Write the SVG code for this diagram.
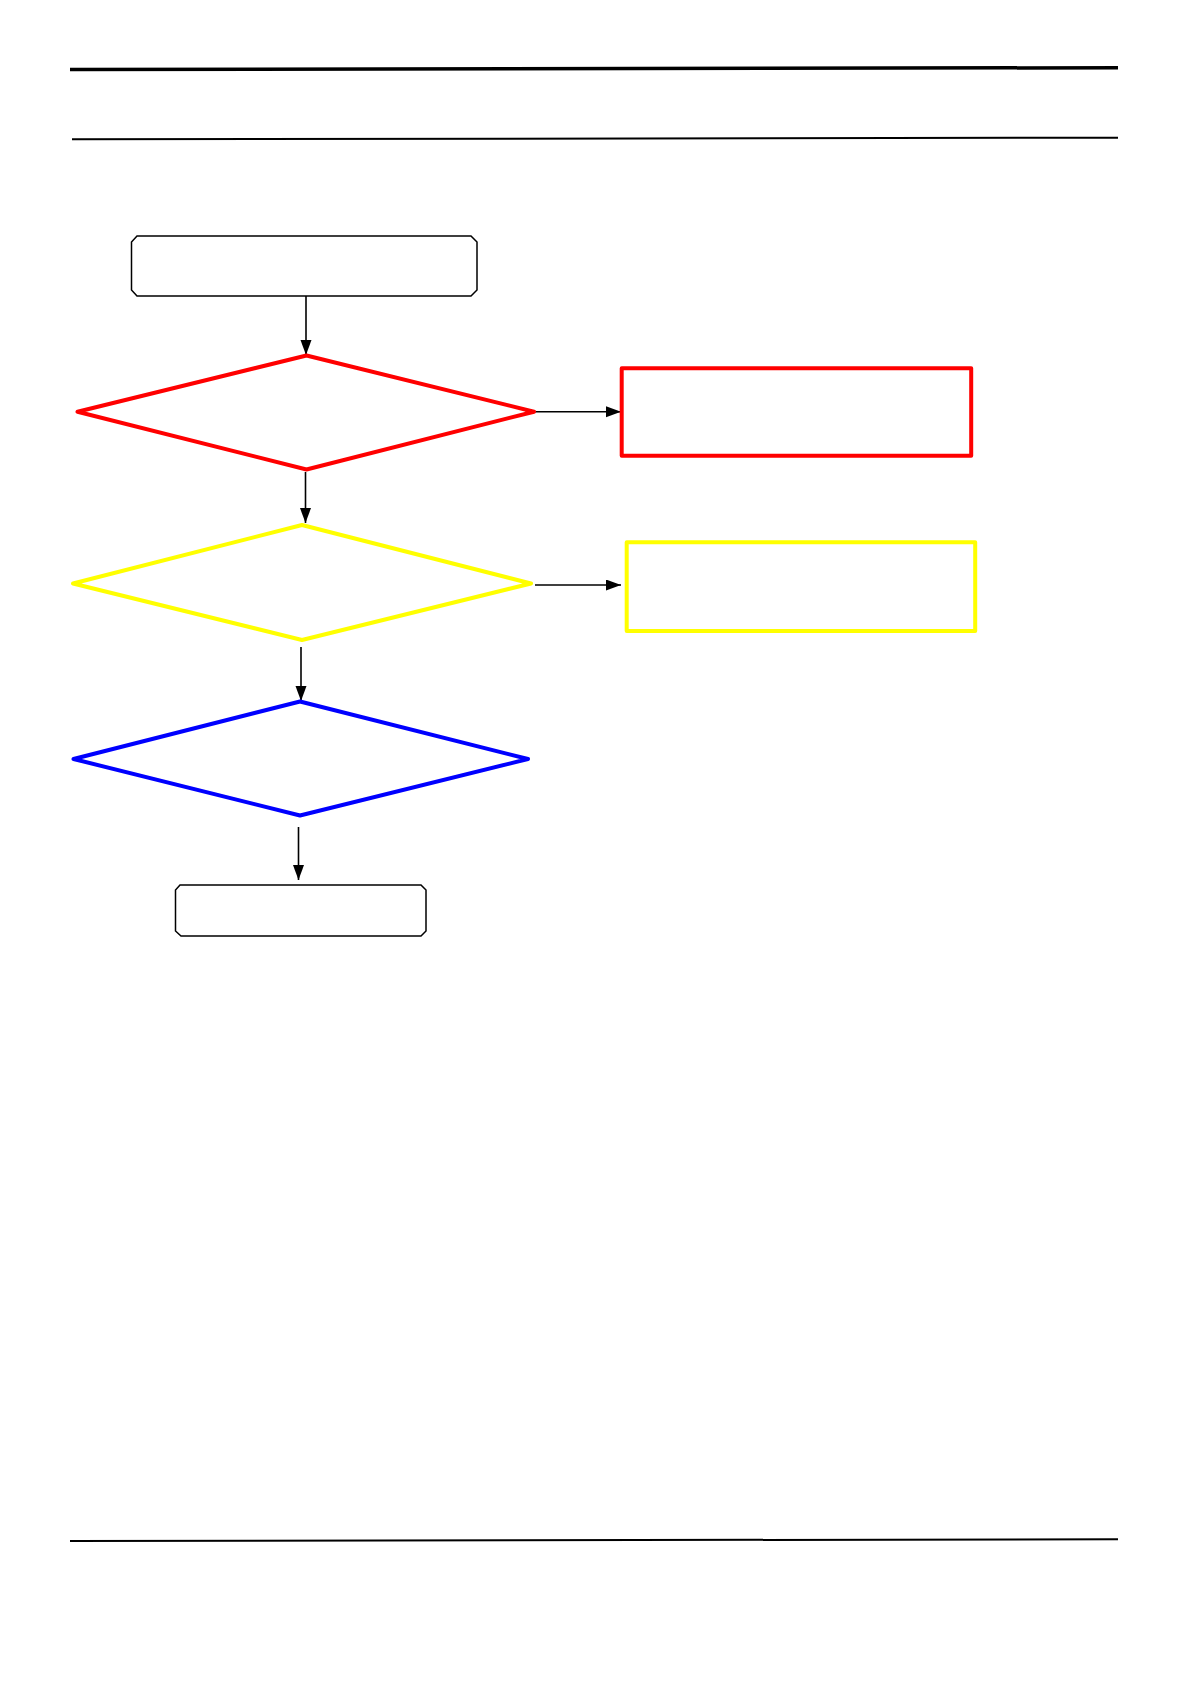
<svg xmlns="http://www.w3.org/2000/svg" width="1191" height="1685" viewBox="0 0 1191 1685">
  <style>
    .rule { stroke: #000; fill: none; }
    .term { fill: #fff; stroke: #000; stroke-width: 1.5; }
    .conn { stroke: #000; stroke-width: 1.6; fill: none; marker-end: url(#ah); }
    .red { fill: #fff; stroke: #FF0000; stroke-width: 4; stroke-linejoin: round; }
    .yellow { fill: #fff; stroke: #FFFF00; stroke-width: 4; stroke-linejoin: round; }
    .blue { fill: #fff; stroke: #0000FF; stroke-width: 4; stroke-linejoin: round; }
  </style>
  <defs>
    <marker id="ah" markerUnits="userSpaceOnUse" markerWidth="16" markerHeight="12" refX="15" refY="5.5" orient="auto">
      <path d="M0,0 L15,5.5 L0,11 z" fill="#000"/>
    </marker>
  </defs>
  <rect width="1191" height="1685" fill="#fff"/>

  <g id="page-rules">
    <line class="rule" x1="70" y1="69.5" x2="1118" y2="67.7" stroke-width="3.5"/>
    <line class="rule" x1="72" y1="139.3" x2="1118" y2="137.7" stroke-width="2"/>
    <line class="rule" x1="70" y1="1541" x2="1118" y2="1539.3" stroke-width="2"/>
  </g>

  <g id="connectors">
    <line class="conn" x1="306" y1="296" x2="306" y2="355"/>
    <line class="conn" x1="535" y1="411.7" x2="621" y2="411.7"/>
    <line class="conn" x1="305.5" y1="472" x2="305.5" y2="523"/>
    <line class="conn" x1="535" y1="585" x2="621" y2="585"/>
    <line class="conn" x1="301" y1="647" x2="301" y2="701"/>
    <line class="conn" x1="298.5" y1="827" x2="298.5" y2="880"/>
  </g>

  <g id="start">
    <path class="term" d="M137,236 H471 L477,242 V290 L471,296 H137 L131.5,290 V242 Z"/>
  </g>

  <g id="decision-red">
    <polygon class="red" points="77.5,411.7 306.5,355.5 534,411.7 306.5,469.5"/>
  </g>
  <g id="box-red">
    <rect class="red" x="621.7" y="368.3" width="349.5" height="87.5"/>
  </g>

  <g id="decision-yellow">
    <polygon class="yellow" points="73,583.5 302,525 531,583.5 302,640"/>
  </g>
  <g id="box-yellow">
    <rect class="yellow" x="626.7" y="542.3" width="348.5" height="88.7"/>
  </g>

  <g id="decision-blue">
    <polygon class="blue" points="73.5,759 300,701.5 528,759 300,815.5"/>
  </g>

  <g id="end">
    <path class="term" d="M180,885 H421 L426,890 V931 L421,936 H181 L175.5,931 V890 Z"/>
  </g>
</svg>
